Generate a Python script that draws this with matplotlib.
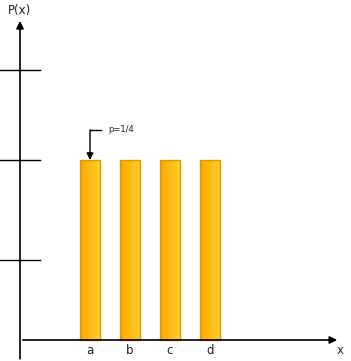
import numpy as np
import matplotlib.pyplot as plt
from matplotlib.colors import LinearSegmentedColormap

# data
categories = ['a', 'b', 'c', 'd']
probs = [0.25, 0.25, 0.25, 0.25]
tick_levels = [0.111, 0.25, 0.375]
note = 'p=1/4'

fig = plt.figure(figsize=(3.51, 3.61), dpi=100)
ax = fig.add_axes([0, 0, 1, 1])
ax.set_xlim(-2.25, 6.525)
ax.set_ylim(-0.0292, 0.4722)
ax.axis('off')

grad = LinearSegmentedColormap.from_list('g', ['#ffa500', '#ffd02e'])
gimg = np.linspace(0, 1, 64).reshape(1, -1)
w = 0.5
for i, (c, p) in enumerate(zip(categories, probs)):
    ax.imshow(gimg, cmap=grad, aspect='auto', extent=(i - w / 2, i + w / 2, 0, p), zorder=2)
    ax.add_patch(plt.Rectangle((i - w / 2, 0), w, p, fill=False, ec='#d79b00', lw=1, zorder=3))
    ax.text(i, -0.014, c, ha='center', va='center', fontsize=8.5, color='#222222')

# axes with arrows
y0x = -1.75
ax.annotate('', xy=(y0x, 0.447), xytext=(y0x, -0.03),
            arrowprops=dict(arrowstyle='-|>', color='black', lw=1.2, mutation_scale=11))
ax.annotate('', xy=(6.25, 0), xytext=(y0x, 0),
            arrowprops=dict(arrowstyle='-|>', color='black', lw=1.2, mutation_scale=11))
for t in tick_levels:
    ax.plot([-2.25, -1.25], [t, t], color='black', lw=1)

ax.text(y0x, 0.457, 'P(x)', ha='center', va='center', fontsize=8.5, color='#222222')
ax.text(6.25, -0.014, 'x', ha='center', va='center', fontsize=8.5, color='#222222')

# annotation for p
ax.plot([0.27, 0.0], [0.2917, 0.2917], color='black', lw=1)
ax.annotate('', xy=(0, probs[0]), xytext=(0, 0.2917),
            arrowprops=dict(arrowstyle='-|>', color='black', lw=1, mutation_scale=10, shrinkA=0, shrinkB=0))
ax.text(0.45, 0.293, note, ha='left', va='center', fontsize=6, color='#222222')

fig.savefig('out.png', dpi=100)
